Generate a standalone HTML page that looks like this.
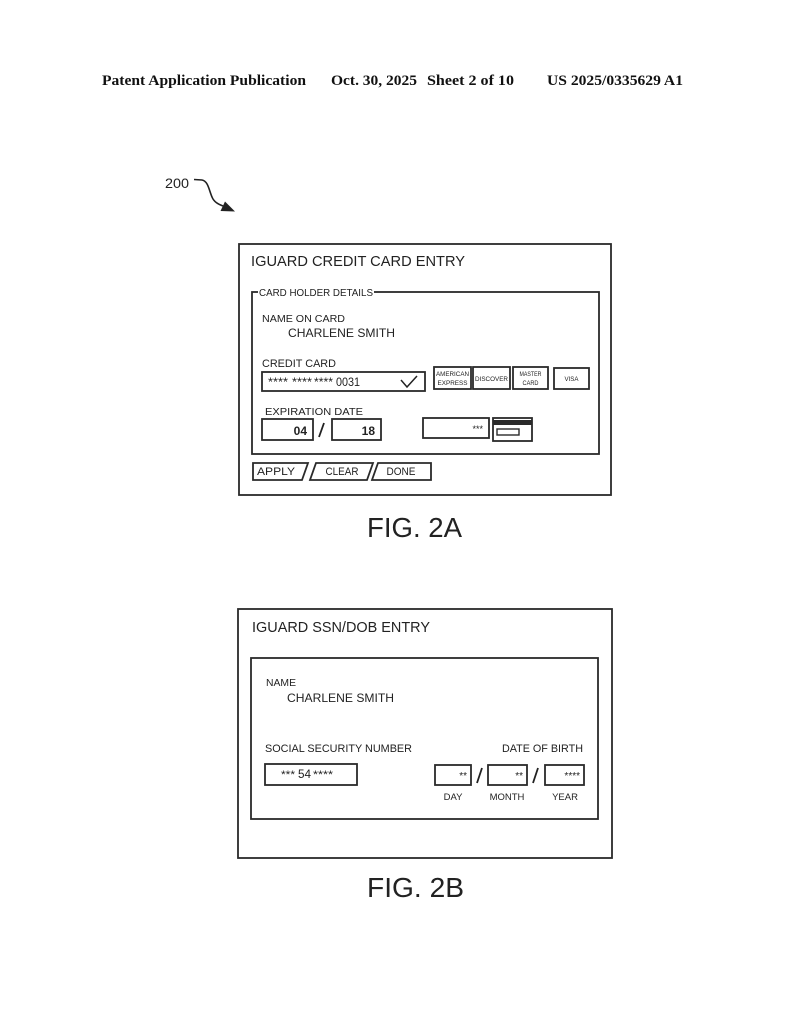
<!DOCTYPE html>
<html>
<head>
<meta charset="utf-8">
<style>
  html,body{margin:0;padding:0;background:#fff;}
  svg{display:block;}
  text{font-family:"Liberation Sans",Arial,sans-serif;fill:#222;}
  .serif{font-family:"Liberation Serif","Times New Roman",serif;font-weight:bold;fill:#111;}
  .ln{fill:none;stroke:#2a2a2a;stroke-width:1.8;}
  .thin{fill:none;stroke:#2a2a2a;stroke-width:1.4;}
</style>
</head>
<body>
<svg width="794" height="1024" viewBox="0 0 794 1024" xmlns="http://www.w3.org/2000/svg">
  <rect x="0" y="0" width="794" height="1024" fill="#fff"/>

  <!-- Header -->
  <text class="serif" x="102" y="85" font-size="15" textLength="204" lengthAdjust="spacingAndGlyphs">Patent Application Publication</text>
  <text class="serif" x="331" y="85" font-size="15" textLength="86" lengthAdjust="spacingAndGlyphs">Oct. 30, 2025</text>
  <text class="serif" x="427" y="85" font-size="15" textLength="87" lengthAdjust="spacingAndGlyphs">Sheet 2 of 10</text>
  <text class="serif" x="547" y="85" font-size="15" textLength="136" lengthAdjust="spacingAndGlyphs">US 2025/0335629 A1</text>

  <!-- 200 reference -->
  <text x="165" y="188" font-size="14" textLength="24" lengthAdjust="spacingAndGlyphs">200</text>
  <path d="M194,179.5 L202,180 C208,181 209,190 212,197 C214,202 218,204 223,206" fill="none" stroke="#222" stroke-width="1.6"/>
  <polygon points="235,211.5 220.5,211 225,201.5" fill="#222"/>

  <!-- ===== FIG 2A ===== -->
  <rect class="ln" x="239" y="244" width="372" height="251"/>
  <text x="251" y="266" font-size="14.5" textLength="214" lengthAdjust="spacingAndGlyphs">IGUARD CREDIT CARD ENTRY</text>

  <!-- card holder details group -->
  <rect class="ln" x="252" y="292" width="347" height="162"/>
  <rect x="258" y="287" width="116" height="10" fill="#fff"/>
  <text x="259" y="296" font-size="9.7" textLength="114" lengthAdjust="spacingAndGlyphs">CARD HOLDER DETAILS</text>

  <text x="262" y="322" font-size="10.5" textLength="83" lengthAdjust="spacingAndGlyphs">NAME ON CARD</text>
  <text x="288" y="337" font-size="12" textLength="107" lengthAdjust="spacingAndGlyphs">CHARLENE SMITH</text>

  <text x="262" y="367" font-size="11" textLength="74" lengthAdjust="spacingAndGlyphs">CREDIT CARD</text>
  <rect class="ln" x="262" y="372" width="163" height="19"/>
  <text x="268" y="386" font-size="12" textLength="20" lengthAdjust="spacingAndGlyphs">****</text>
  <text x="292" y="386" font-size="12" textLength="20" lengthAdjust="spacingAndGlyphs">****</text>
  <text x="314" y="386" font-size="12" textLength="19" lengthAdjust="spacingAndGlyphs">****</text>
  <text x="336" y="386" font-size="12" textLength="24" lengthAdjust="spacingAndGlyphs">0031</text>
  <polyline points="401,380 407,387 417,376" fill="none" stroke="#222" stroke-width="1.5"/>

  <!-- card logos -->
  <rect class="ln" x="434" y="367" width="37" height="22"/>
  <text x="452.5" y="376" font-size="6" text-anchor="middle" textLength="33" lengthAdjust="spacingAndGlyphs">AMERICAN</text>
  <text x="452.5" y="385" font-size="6" text-anchor="middle" textLength="30" lengthAdjust="spacingAndGlyphs">EXPRESS</text>

  <rect class="ln" x="473" y="367" width="37" height="22"/>
  <text x="491.5" y="381" font-size="6" text-anchor="middle" textLength="33" lengthAdjust="spacingAndGlyphs">DISCOVER</text>

  <rect class="ln" x="513" y="367" width="35" height="22"/>
  <text x="530.5" y="376" font-size="6" text-anchor="middle" textLength="22" lengthAdjust="spacingAndGlyphs">MASTER</text>
  <text x="530.5" y="385" font-size="6" text-anchor="middle" textLength="16" lengthAdjust="spacingAndGlyphs">CARD</text>

  <rect class="ln" x="554" y="368" width="35" height="21"/>
  <text x="571.5" y="381" font-size="6" text-anchor="middle" textLength="14" lengthAdjust="spacingAndGlyphs">VISA</text>

  <!-- expiration -->
  <text x="265" y="415" font-size="10.5" textLength="98" lengthAdjust="spacingAndGlyphs">EXPIRATION DATE</text>
  <rect class="ln" x="262" y="419" width="51" height="21"/>
  <text x="307" y="435" font-size="12" font-weight="bold" text-anchor="end">04</text>
  <line x1="319" y1="437" x2="324" y2="423" stroke="#222" stroke-width="1.8"/>
  <rect class="ln" x="332" y="419" width="49" height="21"/>
  <text x="375" y="435" font-size="12" font-weight="bold" text-anchor="end">18</text>

  <!-- CVV -->
  <rect class="ln" x="423" y="418" width="66" height="20"/>
  <text x="483" y="432" font-size="9" text-anchor="end">***</text>
  <!-- card icon -->
  <rect class="ln" x="493" y="418" width="39" height="23"/>
  <rect x="493" y="420" width="39" height="5" fill="#2a2a2a"/>
  <rect class="thin" x="497" y="429" width="22" height="6"/>

  <!-- buttons -->
  <polygon class="ln" points="253,463 308,463 302,480 253,480"/>
  <text x="276" y="475" font-size="11" text-anchor="middle" textLength="38" lengthAdjust="spacingAndGlyphs">APPLY</text>
  <polygon class="ln" points="316,463 373,463 367,480 310,480"/>
  <text x="342" y="475" font-size="11" text-anchor="middle" textLength="33" lengthAdjust="spacingAndGlyphs">CLEAR</text>
  <polygon class="ln" points="378,463 431,463 431,480 372,480"/>
  <text x="401" y="475" font-size="11" text-anchor="middle" textLength="29" lengthAdjust="spacingAndGlyphs">DONE</text>

  <text x="367" y="537" font-size="28" textLength="95" lengthAdjust="spacingAndGlyphs" fill="#1a1a1a">FIG. 2A</text>

  <!-- ===== FIG 2B ===== -->
  <rect class="ln" x="238" y="609" width="374" height="249"/>
  <text x="252" y="632" font-size="14.5" textLength="178" lengthAdjust="spacingAndGlyphs">IGUARD SSN/DOB ENTRY</text>

  <rect class="ln" x="251" y="658" width="347" height="161"/>
  <text x="266" y="686" font-size="10" textLength="30" lengthAdjust="spacingAndGlyphs">NAME</text>
  <text x="287" y="702" font-size="12" textLength="107" lengthAdjust="spacingAndGlyphs">CHARLENE SMITH</text>

  <text x="265" y="752" font-size="10.8" textLength="147" lengthAdjust="spacingAndGlyphs">SOCIAL SECURITY NUMBER</text>
  <text x="583" y="752" font-size="10.6" text-anchor="end" textLength="81" lengthAdjust="spacingAndGlyphs">DATE OF BIRTH</text>

  <rect class="ln" x="265" y="764" width="92" height="21"/>
  <text x="281" y="778" font-size="11" textLength="14" lengthAdjust="spacingAndGlyphs">***</text>
  <text x="298" y="778" font-size="12" textLength="13" lengthAdjust="spacingAndGlyphs">54</text>
  <text x="313" y="778" font-size="11" textLength="20" lengthAdjust="spacingAndGlyphs">****</text>

  <rect class="ln" x="435" y="765" width="36" height="20"/>
  <text x="467" y="779" font-size="10" text-anchor="end">**</text>
  <line x1="477" y1="783" x2="482" y2="768" stroke="#222" stroke-width="1.8"/>
  <rect class="ln" x="488" y="765" width="39" height="20"/>
  <text x="523" y="779" font-size="10" text-anchor="end">**</text>
  <line x1="533" y1="783" x2="538" y2="768" stroke="#222" stroke-width="1.8"/>
  <rect class="ln" x="545" y="765" width="39" height="20"/>
  <text x="580" y="779" font-size="10" text-anchor="end">****</text>

  <text x="453" y="800" font-size="9.5" text-anchor="middle">DAY</text>
  <text x="507" y="800" font-size="9.5" text-anchor="middle">MONTH</text>
  <text x="565" y="800" font-size="9.5" text-anchor="middle">YEAR</text>

  <text x="367" y="897" font-size="28" textLength="97" lengthAdjust="spacingAndGlyphs" fill="#1a1a1a">FIG. 2B</text>
</svg>
</body>
</html>
